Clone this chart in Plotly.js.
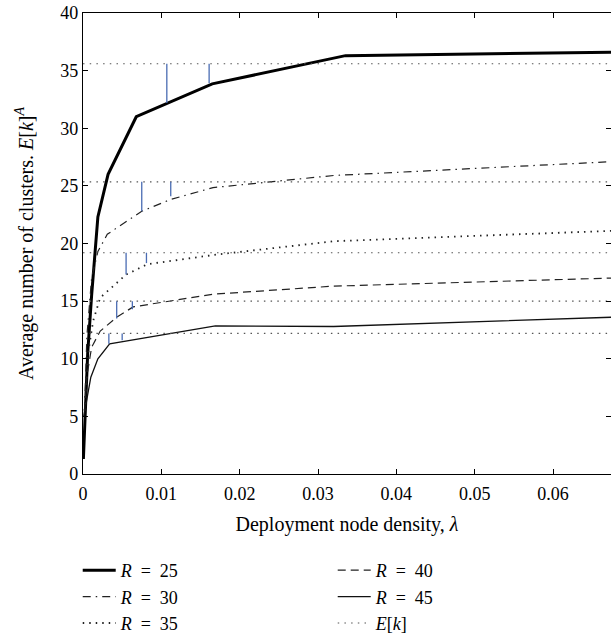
<!DOCTYPE html>
<html>
<head>
<meta charset="utf-8">
<script src="https://cdn.plot.ly/plotly-3.0.1.min.js"></script>
<style>html,body{margin:0;padding:0;background:#fff;}#chart{width:611px;height:642px;}</style>
</head>
<body>
<div id="chart"></div>
<script>
// Series: deployment node density (x) vs average number of clusters (y)
const xR25 = [0.00005, 0.0003, 0.0006, 0.0011, 0.0019, 0.0032, 0.0068, 0.0165, 0.0335, 0.0674];
const yR25 = [1.3, 6.0, 10.5, 15.5, 22.3, 26.0, 31.0, 33.85, 36.3, 36.6];

const xR30 = [0.0002, 0.0005, 0.0011, 0.0019, 0.0031, 0.0075, 0.0111, 0.0166, 0.032, 0.0674];
const yR30 = [5.5, 12.0, 17.0, 19.3, 20.8, 22.8, 23.8, 24.85, 25.9, 27.1];

const xR35 = [0.0002, 0.0007, 0.0013, 0.0022, 0.0055, 0.0082, 0.0166, 0.032, 0.0674];
const yR35 = [5.5, 10.7, 13.3, 15.3, 17.3, 18.2, 19.0, 20.2, 21.1];

const xR40 = [0.0002, 0.0005, 0.0011, 0.0022, 0.0043, 0.0064, 0.0166, 0.032, 0.0674];
const yR40 = [5.5, 8.5, 11.0, 12.4, 13.6, 14.5, 15.6, 16.3, 17.0];

const xR45 = [0.0001, 0.0005, 0.0010, 0.0019, 0.0034, 0.0169, 0.032, 0.0674];
const yR45 = [5.0, 6.6, 8.4, 10.0, 11.3, 12.85, 12.8, 13.6];

// E[k] reference levels (one per R)
const ekValues = [35.6, 25.35, 19.2, 15.0, 12.2];
const ekXStart = 0;
const ekXEnd = 0.0674;

// Blue gap markers: x position, lower end (curve) and upper end (E[k])
const blueX    = [0.0107, 0.0161, 0.0075, 0.0112, 0.0055, 0.0081, 0.0043, 0.0063, 0.0033, 0.0050];
const blueLow  = [32.2, 33.9, 22.8, 24.1, 17.3, 18.3, 13.5, 14.3, 11.3, 11.6];
const blueHigh = [35.6, 35.6, 25.35, 25.35, 19.2, 19.2, 15.0, 15.0, 12.2, 12.2];

const xTicks = [0, 0.01, 0.02, 0.03, 0.04, 0.05, 0.06];
const xTickText = ['0', '0.01', '0.02', '0.03', '0.04', '0.05', '0.06'];
const yTicks = [0, 5, 10, 15, 20, 25, 30, 35, 40];

const SP = '\u2002';
const legendNames = ['<i>R</i>' + SP + '=' + SP + '25', '<i>R</i>' + SP + '=' + SP + '30', '<i>R</i>' + SP + '=' + SP + '35',
                     '<i>R</i>' + SP + '=' + SP + '40', '<i>R</i>' + SP + '=' + SP + '45', '<i>E</i>[<i>k</i>]'];

// Build helper arrays
const ekX = [], ekY = [];
ekValues.forEach(v => { ekX.push(ekXStart, ekXEnd, null); ekY.push(v, v, null); });
const bX = [], bY = [];
blueX.forEach((x, i) => { bX.push(x, x, null); bY.push(blueLow[i], blueHigh[i], null); });

const FONT = 'Liberation Serif, Times New Roman, serif';

const traces = [
  {x: xR25, y: yR25, name: legendNames[0], mode: 'lines', line: {color: '#000', width: 3}},
  {x: xR40, y: yR40, name: legendNames[3], mode: 'lines', line: {color: '#222', width: 1.2, dash: '8px,5px'}},
  {x: xR30, y: yR30, name: legendNames[1], mode: 'lines', line: {color: '#222', width: 1.2, dash: '8px,5px,1.5px,5px'}},
  {x: xR45, y: yR45, name: legendNames[4], mode: 'lines', line: {color: '#111', width: 1.3}},
  {x: xR35, y: yR35, name: legendNames[2], mode: 'lines', line: {color: '#222', width: 1.8, dash: '1.5px,5px'}},
  {x: ekX, y: ekY, name: legendNames[5], mode: 'lines', connectgaps: false, line: {color: '#555', width: 1.1, dash: '1.5px,5.2px'}},
  {x: bX, y: bY, mode: 'lines', showlegend: false, hoverinfo: 'skip', line: {color: '#4a6cb3', width: 1.3}}
];

const layout = {
  width: 611, height: 642,
  margin: {l: 83, r: 0, t: 13, b: 160},
  paper_bgcolor: '#fff', plot_bgcolor: '#fff',
  font: {family: FONT, size: 18, color: '#000'},
  showlegend: true,
  xaxis: {
    range: [0, 0.0674], tickvals: xTicks, ticktext: xTickText,
    ticks: 'inside', ticklen: 5, tickwidth: 1, tickcolor: '#000',
    showline: true, linecolor: '#000', linewidth: 1.2, mirror: 'ticks',
    showgrid: false, zeroline: false, ticklabelstandoff: 3,
    tickfont: {family: FONT, size: 18},
    title: {text: 'Deployment node density, <i>λ</i>', font: {family: FONT, size: 20}, standoff: 14}
  },
  yaxis: {
    range: [0, 40], tickvals: yTicks,
    ticks: 'inside', ticklen: 5, tickwidth: 1, tickcolor: '#000',
    showline: true, linecolor: '#000', linewidth: 1.2, mirror: 'ticks',
    showgrid: false, zeroline: false,
    tickfont: {family: FONT, size: 18},
    title: {text: 'Average number of clusters. <i>E</i>[<i>k</i>]<sup><i>A</i></sup>', font: {family: FONT, size: 20}, standoff: 21}
  },
  legend: {
    orientation: 'h', x: -0.01, xanchor: 'left', y: -0.17, yanchor: 'top',
    entrywidth: 207, itemwidth: 33, tracegroupgap: 0,
    font: {family: FONT, size: 18}, bgcolor: 'rgba(0,0,0,0)', borderwidth: 0
  }
};

Plotly.newPlot('chart', traces, layout, {staticPlot: true, displayModeBar: false});
</script>
</body>
</html>
